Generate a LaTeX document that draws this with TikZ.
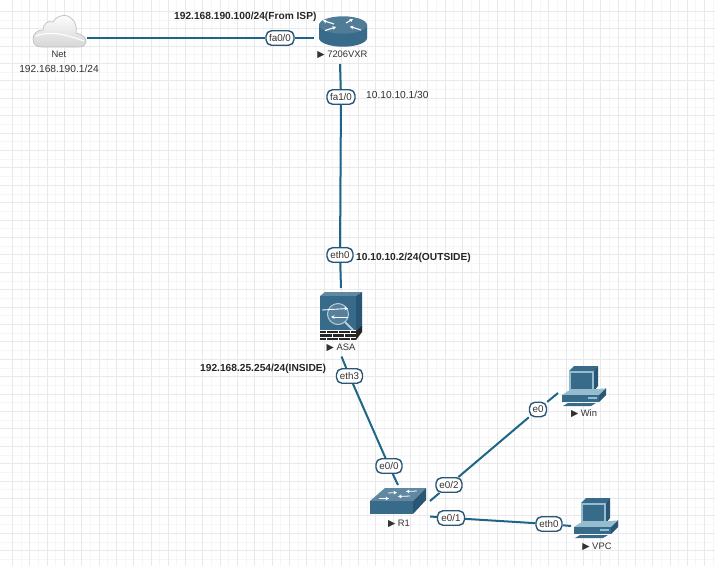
\documentclass[tikz,border=0pt]{standalone}
\usepackage{fontspec}
\setmainfont{Liberation Sans}
\newfontfamily\symfont{DejaVu Sans}
\usetikzlibrary{backgrounds,arrows.meta}
\definecolor{linkc}{RGB}{30,102,136}
\definecolor{iconc}{RGB}{56,106,138}
\definecolor{icond}{RGB}{40,86,116}
\definecolor{iconl}{RGB}{150,188,208}
\definecolor{gridmaj}{RGB}{233,233,236}
\definecolor{gridmin}{RGB}{246,246,248}
\definecolor{txt}{RGB}{50,50,50}
\newcommand{\tri}{{\symfont\fontsize{9.5}{8}\selectfont ▶}\hspace{2.5pt}}
\tikzset{
  x=1pt,y=-1pt,
  link/.style={draw=linkc,line width=2pt},
  port/.style={draw=icond,line width=1.4pt,fill=white,rounded corners=5.5pt,inner sep=0pt,minimum height=14.5pt,font=\fontsize{9.8}{10}\selectfont,text=txt},
  lab/.style={inner sep=0pt,font=\fontsize{9.4}{10}\selectfont,text=txt},
  addr/.style={inner sep=0pt,font=\fontsize{10.2}{11}\selectfont,text=txt},
  addrb/.style={inner sep=0pt,font=\fontsize{10.2}{11}\selectfont\bfseries,text=black!85},
  dev/.style={inner sep=0pt,minimum width=2pt,minimum height=2pt},
  wharrow/.style={draw=white,line width=1.1pt,-{Stealth[length=3.5pt,width=3.8pt]}},
  pics/pcicon/.style={code={
    \fill[iconc] (7,5)--(12,0)--(36,0)--(32,5)--cycle;
    \fill[icond] (32,5)--(36,0)--(36,20)--(32,25)--cycle;
    \fill[iconl] (7,5) rectangle (32,25);
    \fill[iconc] (9,7) rectangle (30,22.5);
    \fill[iconl] (0,29)--(6,25)--(43,22.5)--(37,29)--cycle;
    \fill[iconc] (0,29) rectangle (37,36);
    \fill[icond] (37,29)--(44,22)--(44,29)--(37,36)--cycle;
    \fill[iconl] (26,30.5) rectangle (35,32.5);
    \fill[iconc] (1,40)--(29,40)--(34,37)--(6,37)--cycle;
  }}
}
\begin{document}
\begin{tikzpicture}
\useasboundingbox (0,0) rectangle (715,566);
% ports
\node[port,minimum width=28pt] (fa00) at (280,38) {fa0/0};
\node[port,minimum width=28pt] (fa10) at (341,97) {fa1/0};
\node[port,minimum width=26pt] (eth0a) at (340,255) {eth0};
\node[port,minimum width=26pt] (eth3) at (349.5,376) {eth3};
\node[port,minimum width=26pt] (e00) at (389,466) {e0/0};
\node[port,minimum width=26pt] (e02) at (449,485) {e0/2};
\node[port,minimum width=17pt] (e0) at (538,409.5) {e0};
\node[port,minimum width=27pt] (e01) at (451,518) {e0/1};
\node[port,minimum width=26pt] (eth0b) at (549,524) {eth0};
% link ends
\coordinate (netE) at (87,38);
\coordinate (rtrW) at (314,38);
\coordinate (rtrS) at (340,64);
\coordinate (asaN) at (341,288);
\coordinate (asaS) at (341.5,356.5);
\coordinate (swN) at (398,485);
\coordinate (swE) at (430,501);
\coordinate (swSE) at (430,516.5);
\coordinate (winW) at (558,393);
\coordinate (vpcW) at (571,526);
% device anchors
\node[dev] (net) at (59.5,31) {};
\node[dev] (router) at (343,32) {};
\node[dev] (asa) at (341,316) {};
\node[dev] (r1) at (398,501) {};
\node[dev] (win) at (584,386) {};
\node[dev] (vpc) at (596,518) {};
% cloud
\shade[top color=white,bottom color=gray!32,draw=gray!50,line width=.7pt]
  (42,47) .. controls (36,47) and (33,44) .. (33,39)
  .. controls (33,33) and (38,30) .. (43,30)
  .. controls (43,24) and (48,20) .. (53,22)
  .. controls (56,16) and (66,13) .. (71,18)
  .. controls (76,22) and (77,28) .. (76,33)
  .. controls (82,34) and (87,38) .. (86,42)
  .. controls (85,46) and (82,47) .. (78,47) -- cycle;
\draw[white,line width=1pt] (36,36) .. controls (48,31) and (62,33) .. (84,41);
% router
\fill[iconc] (319,25) -- (319,38) arc[start angle=180,end angle=0,x radius=24,y radius=8.7] -- (367,25) -- cycle;
\fill[iconc!88!white] (343,25) ellipse[x radius=24,y radius=8.7];
\draw[wharrow] (334,24) -- (323,20.5);
\draw[wharrow] (325,30.5) -- (336,27);
\draw[wharrow] (346,23) -- (353,19);
\draw[wharrow] (361,30) -- (350,26.5);
% ASA
\fill[iconc!80!white] (320,296)--(325,292)--(362,292)--(356,296)--cycle;
\fill[icond] (356,296)--(362,292)--(362,327)--(356,330)--cycle;
\fill[iconc] (320,296) rectangle (356,330);
\draw[iconl!70!white,line width=1pt,fill=iconc!85!white] (338,314) circle[radius=10.5];
\draw[iconl!70!white,line width=2pt] (345,322) -- (353,330);
\draw[white,line width=.9pt,-{Stealth[length=3.5pt,width=3.5pt]}] (322,310) -- (348,308.5);
\draw[white,line width=.9pt,-{Stealth[length=3.5pt,width=3.5pt]}] (348,317) -- (331,317);
\fill[black!85] (320,330.5) rectangle (356,340);
\fill[black!85] (356,330.5) -- (362,326) -- (362,332) -- (356,340) -- cycle;
\foreach \yy in {333.5,336.8}{\draw[white,line width=.6pt] (320,\yy) -- (356,\yy);}
\foreach \xx in {326,338,350}{\draw[white,line width=.6pt] (\xx,330.5) -- (\xx,333.5) (\xx,336.8) -- (\xx,340);}
\foreach \xx in {332,344}{\draw[white,line width=.6pt] (\xx,333.5) -- (\xx,336.8);}
% switch
\fill[iconc!80!white] (370,501)--(385,488)--(426,488)--(413,501)--cycle;
\fill[icond] (413,501)--(426,488)--(426,500)--(413,514)--cycle;
\fill[iconc] (370,501) rectangle (413,514);
\draw[wharrow,line width=.8pt] (388,493) -- (397,492.5);
\draw[wharrow,line width=.8pt] (417,491) -- (406,491.5);
\draw[wharrow,line width=.8pt] (379,498.5) -- (389,498.5);
\draw[wharrow,line width=.8pt] (410,496) -- (398,496.5);
% PCs
\pic at (562,366) {pcicon};
\pic at (574,498) {pcicon};
% labels
\node[lab] (netl) at (59,54) {Net};
\node[addr] (neta) at (59,69) {192.168.190.1/24};
\node[lab] (rl) at (342.5,55) {\tri 7206VXR};
\node[lab] (al) at (341,348) {\tri ASA};
\node[lab] (r1l) at (399,523.5) {\tri R1};
\node[lab] (wl) at (584,414) {\tri Win};
\node[lab] (vl) at (597,547) {\tri VPC};
\node[addrb,anchor=west] (isp) at (174,17) {192.168.190.100/24(From ISP)};
\node[addr,anchor=west] (a1) at (366,95) {10.10.10.1/30};
\node[addrb,anchor=west] (a2) at (356,258) {10.10.10.2/24(OUTSIDE)};
\node[addrb,anchor=west] (a3) at (200,369) {192.168.25.254/24(INSIDE)};
\begin{pgfonlayer}{background}
\fill[white] (0,0) rectangle (715,566);
\foreach \k in {0,...,42}{
  \draw[gridmin,line width=.8pt] ({21.15+17.3*\k},0) -- ({21.15+17.3*\k},566);
  \draw[gridmin,line width=.8pt] (0,{19.9+17.4*\k}) -- (715,{19.9+17.4*\k});
}
\foreach \k in {0,...,42}{
  \draw[gridmaj,line width=.8pt] ({12.5+17.3*\k},0) -- ({12.5+17.3*\k},566);
  \draw[gridmaj,line width=.8pt] (0,{11.2+17.4*\k}) -- (715,{11.2+17.4*\k});
}
\draw[link] (netE) -- (fa00) -- (rtrW);
\draw[link] (rtrS) -- (fa10) -- (eth0a) -- (asaN);
\draw[link] (asaS) -- (eth3) -- (e00) -- (swN);
\draw[link] (swE) -- (e02) -- (e0) -- (winW);
\draw[link] (swSE) -- (e01) -- (eth0b) -- (vpcW);
\end{pgfonlayer}
\end{tikzpicture}
\end{document}
